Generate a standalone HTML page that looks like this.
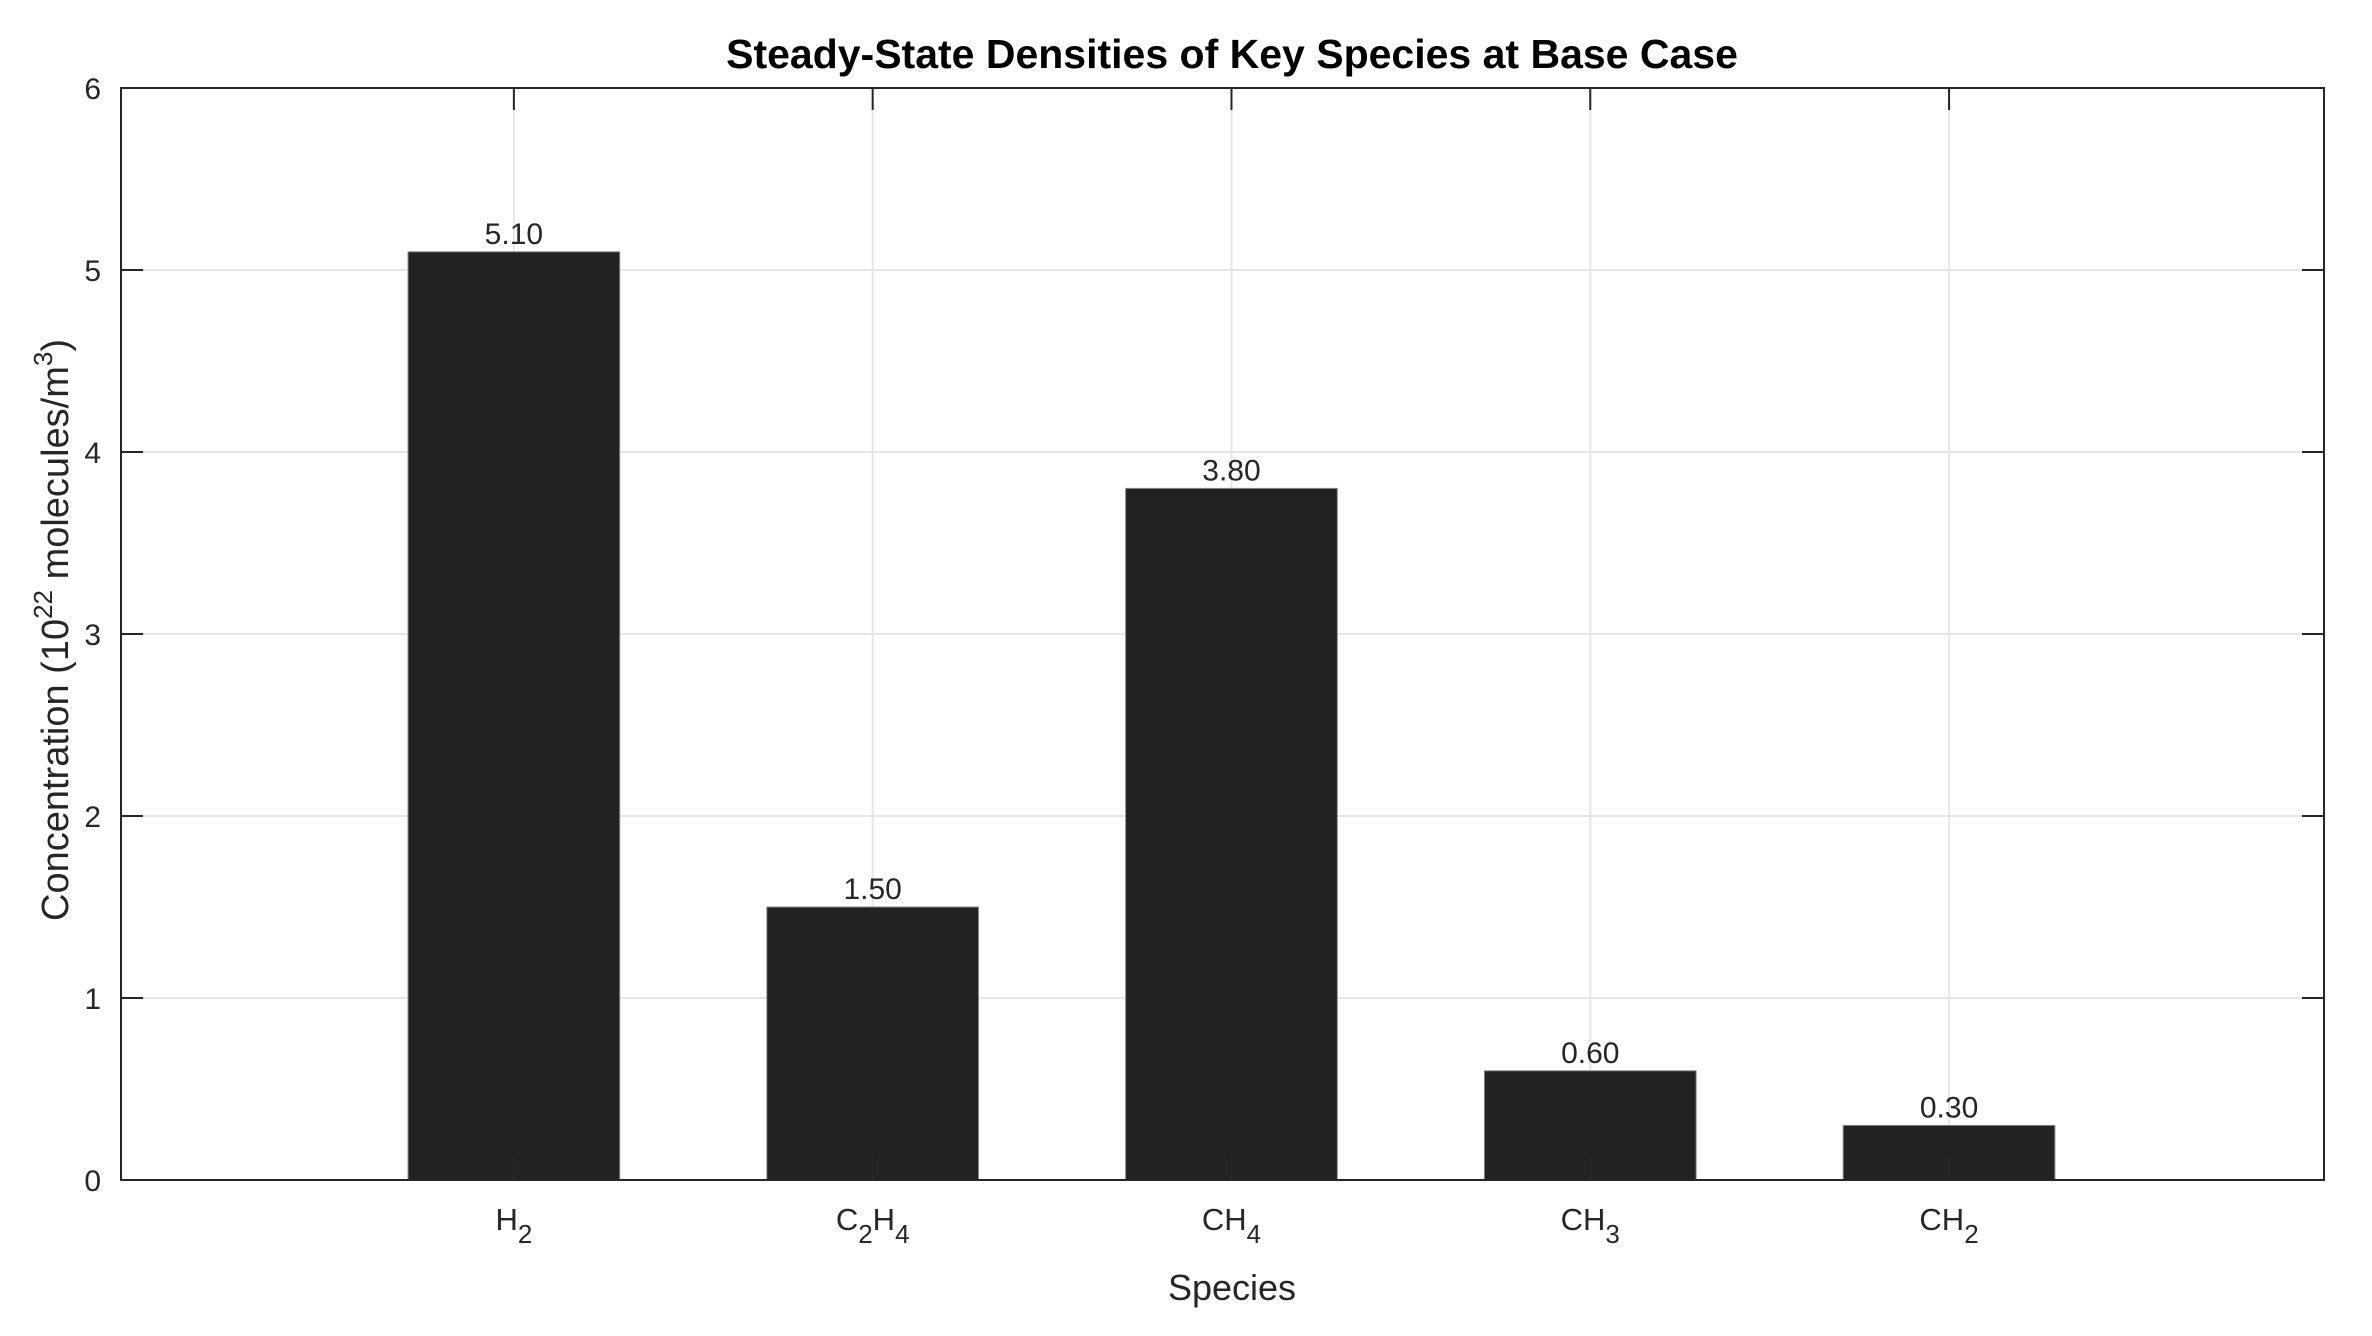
<!DOCTYPE html>
<html><head><meta charset="utf-8"><style>
html,body{margin:0;padding:0;background:#fff;}
svg text{font-family:"Liberation Sans",Arial,sans-serif;fill:#262626;}
</style></head><body>
<svg id="chart" width="2372" height="1331" viewBox="0 0 2372 1331" xmlns="http://www.w3.org/2000/svg">
<rect x="0" y="0" width="2372" height="1331" fill="#fff"/>
<g id="grid"></g>
<g id="bars"></g>
<g id="axes"></g>
<text x="1232" y="68" text-anchor="middle" font-size="41" font-weight="bold" style="fill:#000">Steady-State Densities of Key Species at Base Case</text>
<text x="1232" y="1300" text-anchor="middle" font-size="36">Species</text>
<text transform="translate(68,630) rotate(-90)" text-anchor="middle" font-size="38">Concentration (10<tspan font-size="26" dy="-16">22</tspan><tspan dy="16"> molecules/m</tspan><tspan font-size="26" dy="-16">3</tspan><tspan dy="16">)</tspan></text>
</svg>
<script>
const categories = ["H2","C2H4","CH4","CH3","CH2"];
const catMain = [["H","2"],["C","2","H","4"],["CH","4"],["CH","3"],["CH","2"]];
const values = [5.10,1.50,3.80,0.60,0.30];
const yTicks = [0,1,2,3,4,5,6];
const NS="http://www.w3.org/2000/svg";
const L=121,R=2324,T=88,B=1180;
const xMin=-0.095,xMax=6.045,yMin=0,yMax=6;
function xs(v){return L+(v-xMin)/(xMax-xMin)*(R-L);}
function ys(v){return B-(v-yMin)/(yMax-yMin)*(B-T);}
function mk(tag,attrs,parent){const e=document.createElementNS(NS,tag);for(const k in attrs)e.setAttribute(k,attrs[k]);parent.appendChild(e);return e;}
const grid=document.getElementById('grid'),bars=document.getElementById('bars'),axes=document.getElementById('axes');
yTicks.forEach(t=>{
  const g=mk('line',{x1:L,x2:R,y1:ys(t),y2:ys(t),stroke:'#e6e6e6','stroke-width':2},grid);
  
  
  const tl=mk('text',{x:L-20,y:ys(t)+11,'text-anchor':'end','font-size':30},axes);
  tl.textContent=t;
  
  
  const tk=mk('line',{x1:L,x2:L+22,y1:ys(t),y2:ys(t),stroke:'#262626','stroke-width':2},axes);
  
  
  const tk2=mk('line',{x1:R-22,x2:R,y1:ys(t),y2:ys(t),stroke:'#262626','stroke-width':2},axes);
  
  
});
categories.forEach((c,i)=>{
  const x=xs(i+1);
  const g=mk('line',{x1:x,x2:x,y1:T,y2:B,stroke:'#e6e6e6','stroke-width':2},grid);
  
  
  const bw=(xs(0.59)-xs(0));
  const r=mk('rect',{x:x-bw/2,y:ys(values[i]),width:bw,height:ys(0)-ys(values[i]),fill:'#222','stroke':'#888','stroke-width':1},bars);
  
  
  const vl=mk('text',{x:x,y:ys(values[i])-8,'text-anchor':'middle','font-size':30},bars);
  vl.textContent=values[i].toFixed(2);
  
  
  const tk=mk('line',{x1:x,x2:x,y1:T,y2:T+22,stroke:'#262626','stroke-width':2},axes);
  
  
  const tk2=mk('line',{x1:x,x2:x,y1:B-22,y2:B,stroke:'#262626','stroke-width':2},axes);
  
  
  const t=mk('text',{x:x,y:1230,'text-anchor':'middle','font-size':31},axes);
  
  
  catMain[i].forEach((p,j)=>{
    const s=document.createElementNS(NS,'tspan');
    if(j%2===1){s.setAttribute('font-size','26');s.setAttribute('dy','13');}
    else if(j>0){s.setAttribute('dy','-13');}
    s.textContent=p;t.appendChild(s);
  });
});
const box=mk('rect',{x:L,y:T,width:R-L,height:B-T,fill:'none',stroke:'#262626','stroke-width':2},axes);


</script>
</body></html>
